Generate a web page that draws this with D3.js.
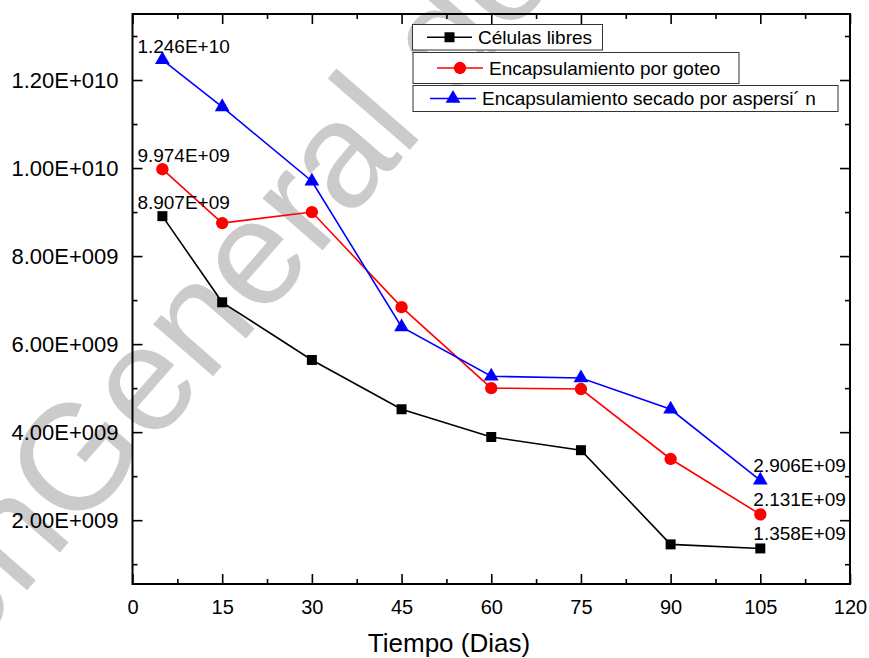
<!DOCTYPE html>
<html>
<head>
<meta charset="utf-8">
<script src="https://cdn.jsdelivr.net/npm/d3@7"></script>
<style>
  html, body { margin: 0; padding: 0; background: #ffffff; }
  svg { display: block; font-family: Arial, "Liberation Sans", sans-serif; }
</style>
</head>
<body>
<svg id="chart" width="869" height="658"></svg>
<script>
// ---- data ----
const days = [5, 15, 30, 45, 60, 75, 90, 105];
const celulasLibres = [8.907e9, 6.95e9, 5.64e9, 4.52e9, 3.89e9, 3.59e9, 1.45e9, 1.358e9];
const goteo = [9.974e9, 8.75e9, 9.0e9, 6.84e9, 5.0e9, 4.98e9, 3.39e9, 2.131e9];
const aspersion = [1.246e10, 1.139e10, 9.70e9, 6.39e9, 5.27e9, 5.23e9, 4.52e9, 2.906e9];
const xTicks = [0, 15, 30, 45, 60, 75, 90, 105, 120];
const xMinorTicks = [7.5, 22.5, 37.5, 52.5, 67.5, 82.5, 97.5, 112.5];
const yTicks = [2e9, 4e9, 6e9, 8e9, 1e10, 1.2e10];
const yMinorTicks = [1e9, 3e9, 5e9, 7e9, 9e9, 1.1e10, 1.3e10];
const seriesNames = ["Células libres", "Encapsulamiento por goteo", "Encapsulamiento secado por aspersi\u00B4 n"];
const xTitle = "Tiempo (Dias)";
const watermarkBefore = "Dirección ";
const watermarkAfter = "General de Bibliotecas";

// ---- layout ----
const svg = d3.select("#chart");
const L = 132.5, R = 850, T = 14, B = 584;
const x = d3.scaleLinear().domain([0, 120]).range([L, R]);
const y = d3.scaleLinear().domain([0.55e9, 1.35e10]).range([B, T]);

// watermark (behind)
const wm = svg.append("g").attr("transform", "translate(75,535) rotate(-49)")
  .attr("fill", "#cbcbcb").style("font-size", "150px");
wm.append("text").attr("text-anchor", "end").text(watermarkBefore);
wm.append("text").attr("text-anchor", "start").text(watermarkAfter);

function expFmt(v, dec, expDigits) {
  const e = Math.floor(Math.log10(Math.abs(v)) + 1e-9);
  const m = v / Math.pow(10, e);
  let es = String(Math.abs(e)).padStart(expDigits, "0");
  return m.toFixed(dec) + "E" + (e >= 0 ? "+" : "-") + es;
}

// axes
const gx = svg.append("g").attr("transform", `translate(0,${B})`)
  .call(d3.axisBottom(x).tickValues(xTicks).tickSize(-10).tickPadding(16).tickFormat(d3.format("d")));
const gxm = svg.append("g").attr("transform", `translate(0,${B})`)
  .call(d3.axisBottom(x).tickValues(xMinorTicks).tickSize(-5).tickFormat(""));
const gxt = svg.append("g").attr("transform", `translate(0,${T})`)
  .call(d3.axisTop(x).tickValues(xTicks).tickSize(-10).tickFormat(""));
const gxtm = svg.append("g").attr("transform", `translate(0,${T})`)
  .call(d3.axisTop(x).tickValues(xMinorTicks).tickSize(-5).tickFormat(""));
const gy = svg.append("g").attr("transform", `translate(${L},0)`)
  .call(d3.axisLeft(y).tickValues(yTicks).tickSize(-10).tickPadding(14).tickFormat(d => expFmt(d, 2, 3)));
const gym = svg.append("g").attr("transform", `translate(${L},0)`)
  .call(d3.axisLeft(y).tickValues(yMinorTicks).tickSize(-5).tickFormat(""));
const gyr = svg.append("g").attr("transform", `translate(${R},0)`)
  .call(d3.axisRight(y).tickValues(yTicks).tickSize(-10).tickFormat(""));
const gyrm = svg.append("g").attr("transform", `translate(${R},0)`)
  .call(d3.axisRight(y).tickValues(yMinorTicks).tickSize(-5).tickFormat(""));

[gx, gxm, gxt, gxtm, gy, gym, gyr, gyrm].forEach(g => {
  g.select(".domain").remove();
  g.selectAll(".tick line").attr("stroke", "#000").attr("stroke-width", 1.6);
  g.selectAll(".tick text").attr("fill", "#000").style("font-family", "Arial, 'Liberation Sans', sans-serif");
});
gx.selectAll(".tick text").style("font-size", "20px");
gy.selectAll(".tick text").style("font-size", "22px");

// frame
svg.append("rect").attr("x", L).attr("y", T).attr("width", R - L).attr("height", B - T)
  .attr("fill", "none").attr("stroke", "#000").attr("stroke-width", 2);

// x title
svg.append("text").attr("x", 449).attr("y", 652).attr("text-anchor", "middle")
  .style("font-size", "26px").attr("fill", "#000").text(xTitle);

// series
const series = [
  { name: seriesNames[0], values: celulasLibres, color: "#000000", symbol: d3.symbolSquare, size: 100 },
  { name: seriesNames[1], values: goteo, color: "#ff0000", symbol: d3.symbolCircle, size: 120 },
  { name: seriesNames[2], values: aspersion, color: "#0000ff", symbol: d3.symbolTriangle, size: 95 }
];
const line = d3.line().x((d, i) => x(days[i])).y(d => y(d));
series.forEach(s => {
  svg.append("path").datum(s.values).attr("d", line).attr("fill", "none")
    .attr("stroke", s.color).attr("stroke-width", 1.6);
});
series.forEach(s => {
  svg.append("g").selectAll("path").data(s.values).join("path")
    .attr("transform", (d, i) => `translate(${x(days[i])},${y(d)})`)
    .attr("d", d3.symbol().type(s.symbol).size(s.size)).attr("fill", s.color);
});

// value labels at first and last points
function lblFmt(v) { return expFmt(v, 3, 2); }
series.forEach(s => {
  const first = s.values[0], last = s.values[s.values.length - 1];
  svg.append("text").attr("x", x(days[0]) - 25).attr("y", y(first) - 7)
    .style("font-size", "19px").attr("fill", "#000").text(lblFmt(first));
  svg.append("text").attr("x", x(days[days.length - 1]) - 7).attr("y", y(last) - 8)
    .style("font-size", "19px").attr("fill", "#000").text(lblFmt(last));
});

// legend (three separate boxes)
const legendBoxes = [
  { x: 412.5, y: 24.5, w: 190, h: 25.5, lx1: 427, lx2: 472, tx: 478 },
  { x: 413, y: 52.5, w: 326, h: 31, lx1: 437, lx2: 483, tx: 489 },
  { x: 413, y: 85.5, w: 425, h: 26, lx1: 430, lx2: 476, tx: 482 }
];
series.forEach((s, i) => {
  const b = legendBoxes[i];
  const g = svg.append("g");
  g.append("rect").attr("x", b.x).attr("y", b.y).attr("width", b.w).attr("height", b.h)
    .attr("fill", "#fff").attr("stroke", "#333").attr("stroke-width", 1);
  const cy = b.y + b.h / 2;
  g.append("line").attr("x1", b.lx1).attr("x2", b.lx2).attr("y1", cy).attr("y2", cy)
    .attr("stroke", s.color).attr("stroke-width", 1.6);
  g.append("path").attr("transform", `translate(${(b.lx1 + b.lx2) / 2},${cy})`)
    .attr("d", d3.symbol().type(s.symbol).size(s.size)).attr("fill", s.color);
  g.append("text").attr("x", b.tx).attr("y", cy).attr("dy", "0.36em")
    .style("font-size", "19px").attr("fill", "#000").text(s.name);
});
</script>
</body>
</html>
